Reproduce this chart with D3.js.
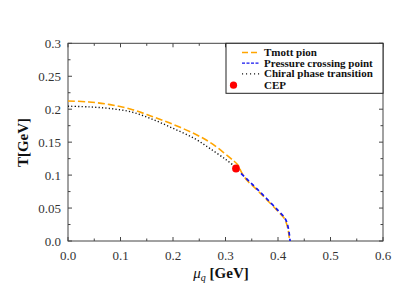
<!DOCTYPE html>
<html><head><meta charset="utf-8">
<script src="https://cdn.jsdelivr.net/npm/d3@7/dist/d3.min.js"></script>
<style>body{margin:0;background:#fff}svg{display:block}
text{font-family:"Liberation Serif","DejaVu Serif",serif}</style>
</head><body><svg id="c" width="404" height="285"></svg>
<script>
const tmottMu = [0, 0.04, 0.08, 0.12, 0.16, 0.20, 0.24, 0.27, 0.30, 0.315, 0.324, 0.330, 0.340, 0.360, 0.380, 0.400, 0.412, 0.416, 0.419, 0.421, 0.422];
const tmottT  = [0.2125, 0.211, 0.207, 0.200, 0.189, 0.177, 0.163, 0.150, 0.132, 0.122, 0.115, 0.105, 0.093, 0.0775, 0.0615, 0.045, 0.0345, 0.027, 0.018, 0.008, 0.000];
const pressMu = [0.320, 0.340, 0.360, 0.380, 0.400, 0.412, 0.417, 0.420, 0.422, 0.423];
const pressT  = [0.110, 0.0945, 0.079, 0.063, 0.0465, 0.036, 0.028, 0.018, 0.008, 0.000];
const chiralMu = [0, 0.04, 0.08, 0.12, 0.16, 0.20, 0.24, 0.27, 0.30, 0.318];
const chiralT  = [0.2045, 0.2035, 0.201, 0.196, 0.185, 0.171, 0.156, 0.1405, 0.124, 0.113];
const cepMu = [0.320];
const cepT = [0.110];
const xTicks = [0, 0.1, 0.2, 0.3, 0.4, 0.5, 0.6];
const xTickLabels = ["0.0", "0.1", "0.2", "0.3", "0.4", "0.5", "0.6"];
const yTicks = [0, 0.05, 0.1, 0.15, 0.2, 0.25, 0.3];
const yTickLabels = ["0.0", "0.05", "0.1", "0.15", "0.2", "0.25", "0.3"];
const legendLabels = ["Tmott pion", "Pressure crossing point", "Chiral phase transition", "CEP"];

const svg = d3.select("#c");
const L = 68, R = 383, T = 43.3, B = 241;
const x = d3.scaleLinear().domain([0, 0.6]).range([L, R]);
const y = d3.scaleLinear().domain([0, 0.3]).range([B, T]);
const axisCol = "#444";

// frame
svg.append("rect").attr("x", L).attr("y", T).attr("width", R - L).attr("height", B - T)
  .attr("fill", "none").attr("stroke", axisCol).attr("stroke-width", 1);

// minor & major ticks (inside, all four sides)
const xMinor = d3.range(0, 0.6001, 0.05);
const yMinor = d3.range(0, 0.3001, 0.025);
const tg = svg.append("g").attr("stroke", axisCol).attr("stroke-width", 1);
xMinor.forEach((v, i) => {
  const len = (i % 2 === 0) ? 4 : 2.5;
  tg.append("line").attr("x1", x(v)).attr("x2", x(v)).attr("y1", B).attr("y2", B - len);
  tg.append("line").attr("x1", x(v)).attr("x2", x(v)).attr("y1", T).attr("y2", T + len);
});
yMinor.forEach((v, i) => {
  const len = (i % 2 === 0) ? 4 : 2.5;
  tg.append("line").attr("y1", y(v)).attr("y2", y(v)).attr("x1", L).attr("x2", L + len);
  tg.append("line").attr("y1", y(v)).attr("y2", y(v)).attr("x1", R).attr("x2", R - len);
});

// tick labels
svg.append("g").selectAll("text").data(xTicks).join("text")
  .attr("x", d => x(d)).attr("y", 259.5).attr("text-anchor", "middle")
  .attr("font-size", 13).attr("fill", "#333")
  .text((d, i) => xTickLabels[i]);
svg.append("g").selectAll("text").data(yTicks).join("text")
  .attr("x", 61).attr("y", d => y(d) + 4.5).attr("text-anchor", "end")
  .attr("font-size", 13).attr("fill", "#333")
  .text((d, i) => yTickLabels[i]);

// axis titles
const xt = svg.append("text").attr("x", 221).attr("y", 278).attr("text-anchor", "middle")
  .attr("font-size", 15).attr("fill", "#111");
xt.append("tspan").attr("font-style", "italic").text("μ");
xt.append("tspan").attr("font-style", "italic").attr("font-size", 10).attr("dy", 3).text("q");
xt.append("tspan").attr("dy", -3).attr("font-weight", "bold").text(" [GeV]");

svg.append("text").attr("transform", "translate(28,142.5) rotate(-90)").attr("text-anchor", "middle")
  .attr("font-size", 15).attr("font-weight", "bold").attr("fill", "#111")
  .text("T[GeV]");

// curves
const zip = (a, b) => a.map((v, i) => [v, b[i]]);
const lineY = d3.line().x(d => x(d[0])).y(d => y(d[1])).curve(d3.curveCatmullRom);

svg.append("path").attr("d", lineY(zip(chiralMu, chiralT))).attr("fill", "none")
  .attr("stroke", "#111").attr("stroke-width", 1.4).attr("stroke-dasharray", "1.2,2.2");
svg.append("path").attr("d", lineY(zip(tmottMu, tmottT))).attr("fill", "none")
  .attr("stroke", "#FFA500").attr("stroke-width", 1.6).attr("stroke-dasharray", "7,3");
svg.append("path").attr("d", lineY(zip(pressMu, pressT))).attr("fill", "none")
  .attr("stroke", "#1515F0").attr("stroke-width", 1.7).attr("stroke-dasharray", "4,3");
svg.append("g").selectAll("circle").data(zip(cepMu, cepT)).join("circle")
  .attr("cx", d => x(d[0])).attr("cy", d => y(d[1])).attr("r", 3.9).attr("fill", "#FF0000");

// legend
const lg = svg.append("g");
lg.append("rect").attr("x", 226).attr("y", T).attr("width", R - 226).attr("height", 50)
  .attr("fill", "#fff").attr("stroke", "#222").attr("stroke-width", 1);
const ly = [52.5, 63.2, 73.9, 85.2];
const styles = [
  {c: "#FFA500", w: 1.3, d: "6,3"},
  {c: "#1515F0", w: 1.3, d: "3,1.5"},
  {c: "#111", w: 1.1, d: "1.1,2.9"}
];
styles.forEach((s, i) => {
  lg.append("line").attr("x1", 242).attr("x2", 259.5).attr("y1", ly[i]).attr("y2", ly[i])
    .attr("stroke", s.c).attr("stroke-width", s.w).attr("stroke-dasharray", s.d);
});
lg.append("circle").attr("cx", 233.5).attr("cy", ly[3]).attr("r", 3.6).attr("fill", "#FF0000");
lg.selectAll("text.l").data(legendLabels).join("text").attr("class", "l")
  .attr("x", 264).attr("y", (d, i) => ly[i] + 3.5)
  .attr("font-size", 11).attr("font-weight", "bold").attr("fill", "#111")
  .text(d => d);
</script></body></html>
